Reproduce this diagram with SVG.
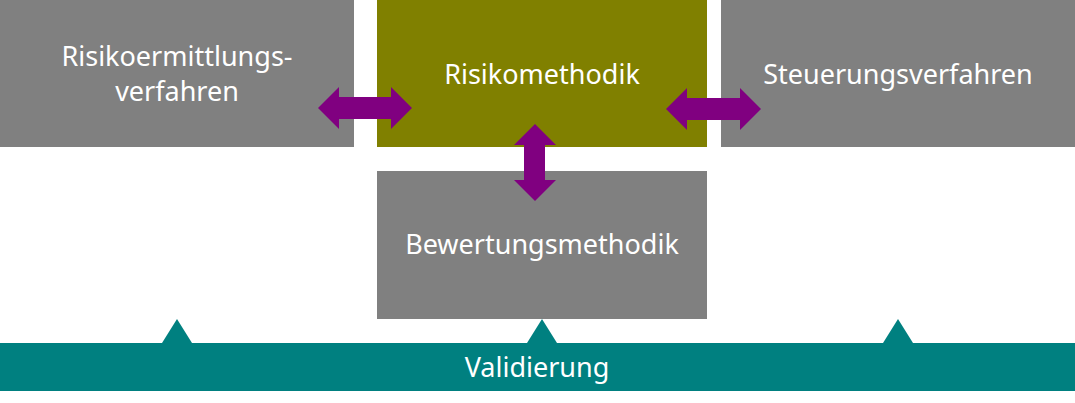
<svg xmlns="http://www.w3.org/2000/svg" width="1075" height="403" viewBox="0 0 1075 403">
<style>
.box{fill:#808080}
.olive{fill:#808000}
.teal{fill:#008080}
.arr{fill:#800080}
.lbl{font-family:"Noto Sans","Open Sans",sans-serif;font-size:27px;fill:#ffffff;text-anchor:middle}
</style>
<rect width="1075" height="403" fill="#ffffff"/>
<g id="validierung">
<rect class="teal" x="0" y="343" width="1075" height="48"/>
<polygon class="teal" points="177,319 192,343 162,343"/>
<polygon class="teal" points="542,319 557,343 527,343"/>
<polygon class="teal" points="898,319 913,343 883,343"/>
<text class="lbl" x="537" y="377">Validierung</text>
</g>
<g id="risikoermittlungsverfahren">
<rect class="box" x="0" y="0" width="354" height="147"/>
<text class="lbl" x="177" y="66">Risikoermittlungs-</text>
<text class="lbl" x="177" y="101">verfahren</text>
</g>
<g id="risikomethodik">
<rect class="olive" x="377" y="0" width="330" height="147"/>
<text class="lbl" x="542" y="84">Risikomethodik</text>
</g>
<g id="steuerungsverfahren">
<rect class="box" x="721" y="0" width="354" height="147"/>
<text class="lbl" x="898" y="84">Steuerungsverfahren</text>
</g>
<g id="bewertungsmethodik">
<rect class="box" x="377" y="171" width="330" height="148"/>
<text class="lbl" x="542" y="254">Bewertungsmethodik</text>
</g>
<g id="connectors">
<polygon class="arr" points="318,108 339,87 339,97 391,97 391,87 412,108 391,129 391,119 339,119 339,129"/>
<polygon class="arr" points="666,109 687,88 687,98 740,98 740,88 761,109 740,130 740,120 687,120 687,130"/>
<polygon class="arr" points="535,124 556,145 545,145 545,180 556,180 535,201 514,180 524,180 524,145 514,145"/>
</g>
</svg>
